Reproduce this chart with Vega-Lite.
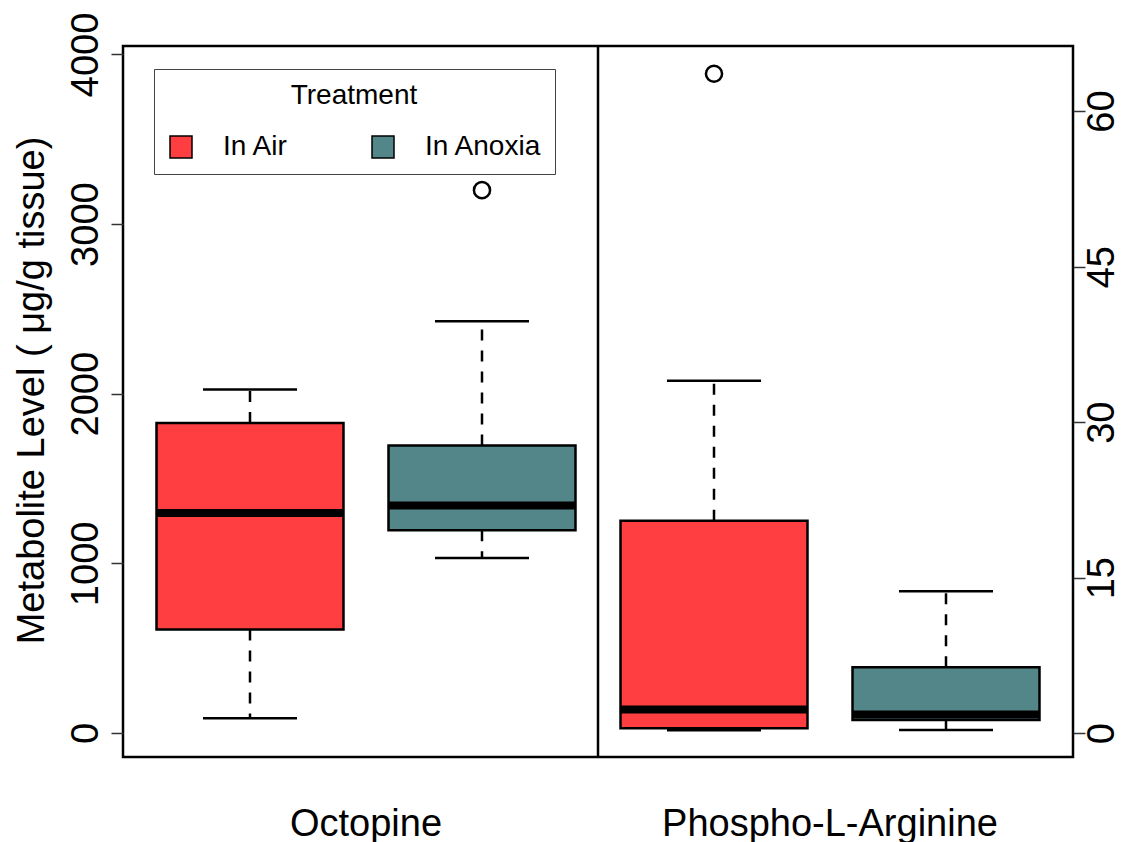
{
  "$schema": "https://vega.github.io/schema/vega-lite/v6.json",
  "width": 950,
  "height": 711,
  "autosize": {"type": "none"},
  "padding": {"left": 123, "top": 46, "right": 48, "bottom": 85},
  "background": "white",
  "config": {
    "font": "Liberation Sans",
    "view": {"stroke": "black", "strokeWidth": 2.5},
    "tick": {"opacity": 1},
    "rule": {"opacity": 1}
  },
  "datasets": {
    "stats": [
      {"metabolite": "Octopine", "treatment": "In Air", "group": "Octopine In Air", "lower": 87, "q1": 610, "median": 1297, "q3": 1828, "upper": 2025},
      {"metabolite": "Octopine", "treatment": "In Anoxia", "group": "Octopine In Anoxia", "lower": 1032, "q1": 1195, "median": 1341, "q3": 1695, "upper": 2427},
      {"metabolite": "Phospho-L-Arginine", "treatment": "In Air", "group": "Phospho-L-Arginine In Air", "lower": 0.3, "q1": 0.48, "median": 2.3, "q3": 20.5, "upper": 34.0},
      {"metabolite": "Phospho-L-Arginine", "treatment": "In Anoxia", "group": "Phospho-L-Arginine In Anoxia", "lower": 0.32, "q1": 1.28, "median": 1.8, "q3": 6.36, "upper": 13.7}
    ],
    "outliers": [
      {"metabolite": "Octopine", "treatment": "In Anoxia", "group": "Octopine In Anoxia", "value": 3200},
      {"metabolite": "Phospho-L-Arginine", "treatment": "In Air", "group": "Phospho-L-Arginine In Air", "value": 63.6}
    ],
    "divider": [
      {"group": "Phospho-L-Arginine In Air"}
    ]
  },
  "encoding": {
    "x": {
      "field": "group",
      "type": "nominal",
      "scale": {
        "domain": ["Octopine In Air", "Octopine In Anoxia", "Phospho-L-Arginine In Air", "Phospho-L-Arginine In Anoxia"],
        "paddingInner": 0.194,
        "paddingOuter": 0.1444
      },
      "axis": {
        "orient": "bottom",
        "title": null,
        "domain": false,
        "ticks": false,
        "tickSize": 0,
        "labelFontSize": 38,
        "labelColor": "black",
        "labelAngle": 0,
        "labelAlign": "center",
        "labelBaseline": "alphabetic",
        "labelPadding": 78,
        "labelOffset": 116,
        "labelOverlap": false,
        "labelFlush": false,
        "labelBound": false,
        "labelLimit": 0,
        "labelExpr": "datum.value == 'Octopine In Air' ? 'Octopine' : (datum.value == 'Phospho-L-Arginine In Air' ? 'Phospho-L-Arginine' : '')"
      }
    }
  },
  "layer": [
    {
      "encoding": {
        "y": {
          "type": "quantitative",
          "scale": {"domain": [-141.5, 4050], "zero": false, "nice": false},
          "axis": {
            "orient": "left",
            "values": [0, 1000, 2000, 3000, 4000],
            "format": "d",
            "domain": false,
            "grid": false,
            "tickSize": 12,
            "tickWidth": 1.5,
            "tickColor": "#333333",
            "labelFontSize": 38,
            "labelColor": "black",
            "labelAngle": 270,
            "labelAlign": "center",
            "labelBaseline": "alphabetic",
            "labelPadding": 14,
            "labelFlush": false,
            "labelOverlap": false,
            "labelBound": false,
            "title": "Metabolite Level ( μg/g tissue)",
            "titleFontSize": 38,
            "titleFontWeight": "normal",
            "titleColor": "black",
            "titleAngle": 270,
            "titleAlign": "center",
            "titleBaseline": "alphabetic",
            "titleX": -80,
            "titleY": 344
          }
        }
      },
      "layer": [
        {
          "data": {"name": "stats"},
          "transform": [{"filter": "datum.metabolite == 'Octopine'"}],
          "layer": [
            {
              "mark": {"type": "rule", "color": "black", "strokeWidth": 2.5, "strokeDash": [11, 10]},
              "encoding": {"y": {"field": "q3", "type": "quantitative"}, "y2": {"field": "upper"}}
            },
            {
              "mark": {"type": "rule", "color": "black", "strokeWidth": 2.5, "strokeDash": [11, 10]},
              "encoding": {"y": {"field": "q1", "type": "quantitative"}, "y2": {"field": "lower"}}
            },
            {
              "mark": {"type": "tick", "orient": "horizontal", "color": "black", "opacity": 1, "size": 94, "thickness": 2.5},
              "encoding": {"y": {"field": "upper", "type": "quantitative"}}
            },
            {
              "mark": {"type": "tick", "orient": "horizontal", "color": "black", "opacity": 1, "size": 94, "thickness": 2.5},
              "encoding": {"y": {"field": "lower", "type": "quantitative"}}
            },
            {
              "mark": {"type": "bar", "stroke": "black", "strokeWidth": 2.5, "opacity": 1, "width": {"band": 1}},
              "encoding": {
                "y": {"field": "q1", "type": "quantitative"},
                "y2": {"field": "q3"},
                "fill": {
                  "field": "treatment",
                  "type": "nominal",
                  "scale": {"domain": ["In Air", "In Anoxia"], "range": ["#FF3E41", "#528689"]},
                  "legend": {
                    "title": "Treatment",
                    "orient": "none",
                    "legendX": 31,
                    "legendY": 23,
                    "direction": "horizontal",
                    "columns": 2,
                    "titleAnchor": "middle",
                    "titleFontSize": 28,
                    "titleFontWeight": "normal",
                    "titleColor": "black",
                    "titlePadding": 23,
                    "labelFontSize": 28,
                    "labelColor": "black",
                    "labelOffset": 28,
                    "columnPadding": 80,
                    "symbolType": "square",
                    "symbolSize": 484,
                    "symbolStrokeColor": "black",
                    "symbolStrokeWidth": 1.5,
                    "symbolOpacity": 1,
                    "padding": 13,
                    "strokeColor": "#444444"
                  }
                }
              }
            },
            {
              "mark": {"type": "tick", "orient": "horizontal", "color": "black", "opacity": 1, "size": 187, "thickness": 8},
              "encoding": {"y": {"field": "median", "type": "quantitative"}}
            }
          ]
        },
        {
          "data": {"name": "outliers"},
          "transform": [{"filter": "datum.metabolite == 'Octopine'"}],
          "mark": {"type": "point", "shape": "circle", "filled": false, "stroke": "black", "strokeWidth": 2.5, "size": 260, "opacity": 1},
          "encoding": {"y": {"field": "value", "type": "quantitative"}}
        }
      ]
    },
    {
      "encoding": {
        "y": {
          "type": "quantitative",
          "scale": {"domain": [-2.29, 66.28], "zero": false, "nice": false},
          "axis": {
            "orient": "right",
            "values": [0, 15, 30, 45, 60],
            "format": "d",
            "domain": false,
            "grid": false,
            "tickSize": 12,
            "tickWidth": 1.5,
            "tickColor": "#333333",
            "labelFontSize": 38,
            "labelColor": "black",
            "labelAngle": 270,
            "labelAlign": "center",
            "labelBaseline": "alphabetic",
            "labelPadding": 28,
            "labelFlush": false,
            "labelOverlap": false,
            "labelBound": false,
            "title": null
          }
        }
      },
      "layer": [
        {
          "data": {"name": "stats"},
          "transform": [{"filter": "datum.metabolite == 'Phospho-L-Arginine'"}],
          "layer": [
            {
              "mark": {"type": "rule", "color": "black", "strokeWidth": 2.5, "strokeDash": [11, 10]},
              "encoding": {"y": {"field": "q3", "type": "quantitative"}, "y2": {"field": "upper"}}
            },
            {
              "mark": {"type": "rule", "color": "black", "strokeWidth": 2.5, "strokeDash": [11, 10]},
              "encoding": {"y": {"field": "q1", "type": "quantitative"}, "y2": {"field": "lower"}}
            },
            {
              "mark": {"type": "tick", "orient": "horizontal", "color": "black", "opacity": 1, "size": 94, "thickness": 2.5},
              "encoding": {"y": {"field": "upper", "type": "quantitative"}}
            },
            {
              "mark": {"type": "tick", "orient": "horizontal", "color": "black", "opacity": 1, "size": 94, "thickness": 2.5},
              "encoding": {"y": {"field": "lower", "type": "quantitative"}}
            },
            {
              "mark": {"type": "bar", "stroke": "black", "strokeWidth": 2.5, "opacity": 1, "width": {"band": 1}},
              "encoding": {
                "y": {"field": "q1", "type": "quantitative"},
                "y2": {"field": "q3"},
                "fill": {"field": "treatment", "type": "nominal"}
              }
            },
            {
              "mark": {"type": "tick", "orient": "horizontal", "color": "black", "opacity": 1, "size": 187, "thickness": 8},
              "encoding": {"y": {"field": "median", "type": "quantitative"}}
            }
          ]
        },
        {
          "data": {"name": "outliers"},
          "transform": [{"filter": "datum.metabolite == 'Phospho-L-Arginine'"}],
          "mark": {"type": "point", "shape": "circle", "filled": false, "stroke": "black", "strokeWidth": 2.5, "size": 260, "opacity": 1},
          "encoding": {"y": {"field": "value", "type": "quantitative"}}
        }
      ]
    },
    {
      "data": {"name": "divider"},
      "mark": {"type": "rule", "color": "black", "strokeWidth": 2.5},
      "encoding": {
        "x": {"field": "group", "type": "nominal", "bandPosition": -0.1203}
      }
    }
  ],
  "resolve": {"scale": {"y": "independent"}, "axis": {"y": "independent"}}
}
